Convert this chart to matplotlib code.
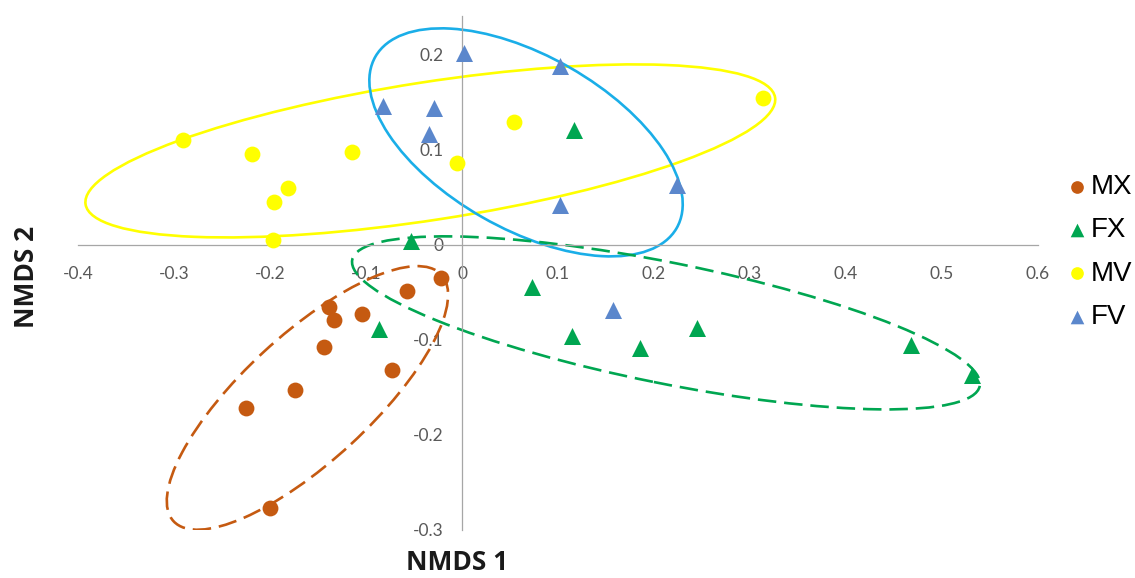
import numpy as np
import matplotlib
matplotlib.use("Agg")
import matplotlib.pyplot as plt
from matplotlib.patches import Ellipse

# pontos NMDS
mx_x = [-0.022, -0.057, -0.139, -0.133, -0.104, -0.144, -0.073, -0.174, -0.225, -0.200]
mx_y = [-0.035, -0.048, -0.065, -0.079, -0.073, -0.107, -0.132, -0.153, -0.172, -0.277]

fx_x = [-0.053, -0.086, 0.073, 0.117, 0.115, 0.185, 0.245, 0.468, 0.531]
fx_y = [0.004, -0.088, -0.044, 0.121, -0.096, -0.108, -0.087, -0.105, -0.137]

mv_x = [-0.291, -0.219, -0.115, -0.181, -0.196, -0.197, -0.005, 0.054, 0.314]
mv_y = [0.111, 0.096, 0.098, 0.060, 0.045, 0.005, 0.086, 0.129, 0.155]

fv_x = [0.002, -0.082, -0.029, -0.034, 0.102, 0.224, 0.102, 0.157]
fv_y = [0.202, 0.146, 0.144, 0.117, 0.188, 0.063, 0.042, -0.068]

grupos = ["MX", "FX", "MV", "FV"]

# elipses: centro x, centro y, largura, altura, angulo
elipse_mx = (-0.161, -0.161, 0.381, 0.133, 43)
elipse_fx = (0.2125, -0.082, 0.667, 0.127, -11.5)
elipse_mv = (-0.033, 0.099, 0.727, 0.145, 8.9)
elipse_fv = (0.0667, 0.108, 0.362, 0.182, -30)

x_ticks = [-0.4, -0.3, -0.2, -0.1, 0, 0.1, 0.2, 0.3, 0.4, 0.5, 0.6]
x_tick_labels = ["-0.4", "-0.3", "-0.2", "-0.1", "0", "0.1", "0.2", "0.3", "0.4", "0.5", "0.6"]
y_ticks = [-0.3, -0.2, -0.1, 0, 0.1, 0.2]
y_tick_labels = ["-0.3", "-0.2", "-0.1", "0", "0.1", "0.2"]

laranja = "#C55A11"
verde = "#00A651"
amarelo = "#FFFF00"
azul = "#5B87CC"
ciano = "#1AAEE8"
cinza_eixo = "#A6A6A6"
cinza_txt = "#595959"

fig = plt.figure(figsize=(11.35, 5.78), dpi=100)
ax = fig.add_axes([78 / 1135, 48 / 578, 960 / 1135, 514 / 578])
ax.set_xlim(-0.4, 0.6)
ax.set_ylim(-0.3, 0.241)

for s in ["top", "right"]:
    ax.spines[s].set_visible(False)
ax.spines["left"].set_position(("data", 0))
ax.spines["bottom"].set_position(("data", 0))
ax.spines["left"].set_color(cinza_eixo)
ax.spines["bottom"].set_color(cinza_eixo)
ax.spines["left"].set_linewidth(0.9)
ax.spines["bottom"].set_linewidth(0.9)

ax.set_xticks(x_ticks)
ax.set_xticklabels(x_tick_labels)
ax.set_yticks(y_ticks)
ax.set_yticklabels(y_tick_labels)
ax.tick_params(length=0, labelsize=12.5, labelcolor=cinza_txt)
ax.tick_params(axis="x", pad=15)
ax.tick_params(axis="y", pad=13)
for lab in ax.get_xticklabels() + ax.get_yticklabels():
    lab.set_family("Lato")

def desenha_elipse(params, cor, tracejado):
    cx, cy, w, h, ang = params
    e = Ellipse((cx, cy), w, h, angle=ang, fill=False, edgecolor=cor, linewidth=1.9, zorder=2)
    if tracejado:
        e.set_linestyle((0, (7, 3)))
    ax.add_patch(e)

desenha_elipse(elipse_mv, amarelo, False)
desenha_elipse(elipse_fv, ciano, False)
desenha_elipse(elipse_fx, verde, True)
desenha_elipse(elipse_mx, laranja, True)

h1 = ax.scatter(mx_x, mx_y, s=130, marker="o", color=laranja, linewidths=0, zorder=3, label="MX")
h2 = ax.scatter(fx_x, fx_y, s=150, marker="^", color=verde, linewidths=0, zorder=3, label="FX")
h3 = ax.scatter(mv_x, mv_y, s=130, marker="o", color=amarelo, linewidths=0, zorder=3, label="MV")
h4 = ax.scatter(fv_x, fv_y, s=150, marker="^", color=azul, linewidths=0, zorder=3, label="FV")

leg = fig.legend([h1, h2, h3, h4], grupos, loc="center left",
                 bbox_to_anchor=(1059 / 1135, 1 - 252 / 578), frameon=False,
                 prop={"family": "Liberation Sans", "size": 20}, markerscale=0.8,
                 handlelength=0.5, handletextpad=0.25, labelspacing=0.62, borderaxespad=0)

fig.text(457 / 1135, 1 - 562 / 578, "NMDS 1", ha="center", va="center",
         fontsize=19, fontweight="bold", family="Open Sans", color="#1A1A1A")
fig.text(27 / 1135, 1 - 277 / 578, "NMDS 2", ha="center", va="center", rotation=90,
         fontsize=19, fontweight="bold", family="Open Sans", color="#1A1A1A")

fig.savefig("out.png", dpi=100)
